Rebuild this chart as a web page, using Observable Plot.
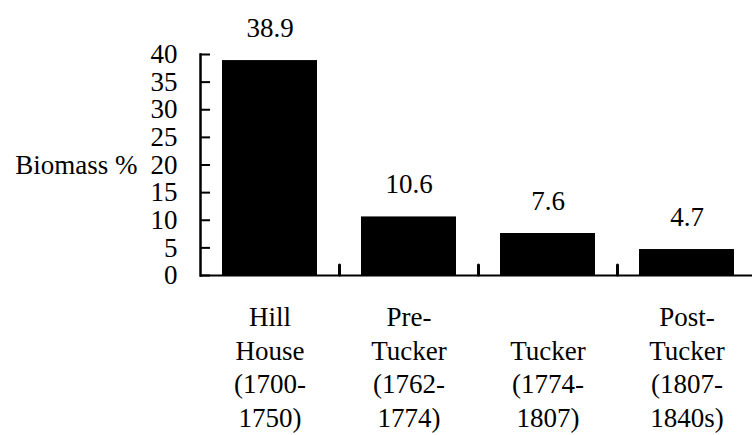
<!DOCTYPE html>
<html>
<head>
<meta charset="utf-8">
<script src="https://cdn.jsdelivr.net/npm/d3@7"></script>
<script src="https://cdn.jsdelivr.net/npm/@observablehq/plot@0.6"></script>
<style>
  html, body { margin: 0; padding: 0; background: #fff; }
  svg { display: block; }
  svg text, svg tspan { font-family: "Liberation Serif", "Times New Roman", "DejaVu Serif", serif !important; }
</style>
</head>
<body>
<div id="chart"></div>
<script>
const categories = ["Hill House", "Pre-Tucker", "Tucker", "Post-Tucker"];
const categoryLabels = [
  "Hill\nHouse\n(1700-\n1750)",
  "Pre-\nTucker\n(1762-\n1774)",
  "\nTucker\n(1774-\n1807)",
  "Post-\nTucker\n(1807-\n1840s)"
];
const biomass = [38.9, 10.6, 7.6, 4.7];
const valueLabels = ["38.9", "10.6", "7.6", "4.7"];
const yTicks = [0, 5, 10, 15, 20, 25, 30, 35, 40];
const yLabel = "Biomass %";

const data = categories.map((c, i) => ({category: c, value: biomass[i], label: valueLabels[i]}));
const labelOf = new Map(categories.map((c, i) => [c, categoryLabels[i]]));

const W = 752, H = 435, mL = 200, mR = -4, mT = 54, mB = 160;
const step = (W - mL - mR) / categories.length;
const font = "Liberation Serif";
const fs = 27;

const chart = Plot.plot({
  width: W,
  height: H,
  marginLeft: mL,
  marginRight: mR,
  marginTop: mT,
  marginBottom: mB,
  style: {fontFamily: font, fontSize: fs + "px", color: "#000", background: "#fff"},
  x: {domain: categories, paddingInner: 0.32, paddingOuter: 0.16, label: null},
  y: {domain: [0, 40], label: null},
  marks: [
    Plot.barY(data, {x: "category", y: "value", fill: "#000"}),
    Plot.text(data, {x: "category", y: "value", text: "label", lineAnchor: "bottom", dy: -24, fontSize: fs, fontFamily: font, fill: "#000"}),
    Plot.frame({anchor: "left", strokeWidth: 2.5, stroke: "#000"}),
    Plot.ruleY([0], {strokeWidth: 2, stroke: "#000"}),
    Plot.axisY({ticks: yTicks, tickSize: -10, tickPadding: 33, strokeWidth: 2, fontSize: fs, fontFamily: font, label: null, tickFormat: d => String(d)}),
    Plot.text([yLabel], {y: [20], frameAnchor: "left", textAnchor: "end", dx: -63, fontSize: fs, fontFamily: font, fill: "#000"}),
    Plot.axisX({tickSize: 0, tickPadding: 27, fontSize: fs, fontFamily: font, lineHeight: 1.24, label: null, tickFormat: d => labelOf.get(d)}),
    Plot.axisX({ticks: categories.slice(0, -1), tickSize: -10, dx: step / 2, strokeWidth: 3, strokeLinecap: "round", label: null, tickFormat: () => ""})
  ]
});
// embed the font rule inside the SVG itself as well
const st = document.createElementNS("http://www.w3.org/2000/svg", "style");
st.textContent = 'text, tspan { font-family: "Liberation Serif", "Times New Roman", "DejaVu Serif", serif !important; }';
chart.appendChild(st);
chart.setAttribute("font-family", "Liberation Serif, Times New Roman, serif");
document.getElementById("chart").appendChild(chart);
</script>
</body>
</html>
